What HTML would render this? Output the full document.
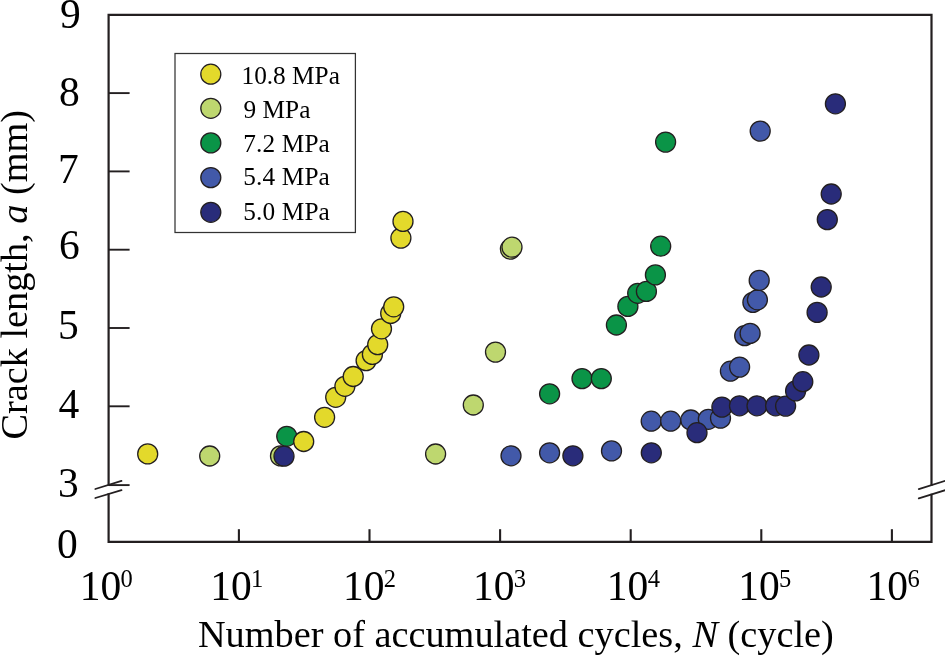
<!DOCTYPE html>
<html><head><meta charset="utf-8"><style>
html,body{margin:0;padding:0;background:#fff;overflow:hidden;}
svg{display:block;will-change:transform;}
text{font-family:"Liberation Serif",serif;fill:#000;}
</style></head><body>
<svg width="945" height="656" viewBox="0 0 945 656">
<path d="M108.6 14.8 V484.6 M108.6 494.4 V541.85 H931.5 V494.8 M931.5 484.6 V14.8 H108.6" fill="none" stroke="#231f20" stroke-width="2.2" stroke-linejoin="miter" stroke-linecap="square"/>
<line x1="108.6" y1="93.1" x2="129.6" y2="93.1" stroke="#231f20" stroke-width="1.9"/>
<line x1="108.6" y1="171.4" x2="129.6" y2="171.4" stroke="#231f20" stroke-width="1.9"/>
<line x1="108.6" y1="249.7" x2="129.6" y2="249.7" stroke="#231f20" stroke-width="1.9"/>
<line x1="108.6" y1="328.0" x2="129.6" y2="328.0" stroke="#231f20" stroke-width="1.9"/>
<line x1="108.6" y1="406.3" x2="129.6" y2="406.3" stroke="#231f20" stroke-width="1.9"/>
<line x1="108.6" y1="485.1" x2="129.6" y2="485.1" stroke="#231f20" stroke-width="1.9"/>
<line x1="238.9" y1="541.85" x2="238.9" y2="529.2" stroke="#231f20" stroke-width="2.1"/>
<line x1="369.5" y1="541.85" x2="369.5" y2="529.2" stroke="#231f20" stroke-width="2.1"/>
<line x1="500.1" y1="541.85" x2="500.1" y2="529.2" stroke="#231f20" stroke-width="2.1"/>
<line x1="630.7" y1="541.85" x2="630.7" y2="529.2" stroke="#231f20" stroke-width="2.1"/>
<line x1="761.3" y1="541.85" x2="761.3" y2="529.2" stroke="#231f20" stroke-width="2.1"/>
<line x1="891.9" y1="541.85" x2="891.9" y2="529.2" stroke="#231f20" stroke-width="2.1"/>
<path d="M95.3 489 L121.5 480.9 M95.3 498 L121.5 490.2" stroke="#231f20" stroke-width="1.8" fill="none" stroke-linecap="round"/>
<path d="M918.8 489.1 L946 480.6 M918.8 498.4 L946 489.9" stroke="#231f20" stroke-width="1.8" fill="none" stroke-linecap="round"/>
<g stroke="#231f20" stroke-width="1.3"><circle cx="209.7" cy="456" r="10.0" fill="#bed76f"/>
<circle cx="280.5" cy="455.9" r="10.0" fill="#bed76f"/>
<circle cx="435.6" cy="454" r="10.0" fill="#bed76f"/>
<circle cx="473.3" cy="405" r="10.0" fill="#bed76f"/>
<circle cx="495.5" cy="352.1" r="10.0" fill="#bed76f"/>
<circle cx="510.4" cy="249.1" r="10.0" fill="#bed76f"/>
<circle cx="512" cy="247.2" r="10.0" fill="#bed76f"/><circle cx="286.75" cy="436.3" r="10.0" fill="#0a9447"/>
<circle cx="549.6" cy="393.8" r="10.0" fill="#0a9447"/>
<circle cx="582" cy="378.6" r="10.0" fill="#0a9447"/>
<circle cx="601.3" cy="378.6" r="10.0" fill="#0a9447"/>
<circle cx="616.4" cy="325" r="10.0" fill="#0a9447"/>
<circle cx="627.9" cy="306.4" r="10.0" fill="#0a9447"/>
<circle cx="637.7" cy="293.3" r="10.0" fill="#0a9447"/>
<circle cx="646.4" cy="291.4" r="10.0" fill="#0a9447"/>
<circle cx="655.4" cy="274.9" r="10.0" fill="#0a9447"/>
<circle cx="660.7" cy="246.2" r="10.0" fill="#0a9447"/>
<circle cx="665.6" cy="142.1" r="10.0" fill="#0a9447"/><circle cx="511" cy="455.8" r="10.0" fill="#4259a9"/>
<circle cx="549.6" cy="452.8" r="10.0" fill="#4259a9"/>
<circle cx="611.5" cy="450.9" r="10.0" fill="#4259a9"/>
<circle cx="651.2" cy="421.2" r="10.0" fill="#4259a9"/>
<circle cx="670.7" cy="421.2" r="10.0" fill="#4259a9"/>
<circle cx="690.8" cy="420" r="10.0" fill="#4259a9"/>
<circle cx="708.3" cy="419.3" r="10.0" fill="#4259a9"/>
<circle cx="720.5" cy="418.2" r="10.0" fill="#4259a9"/>
<circle cx="730.4" cy="371.2" r="10.0" fill="#4259a9"/>
<circle cx="739.6" cy="367.1" r="10.0" fill="#4259a9"/>
<circle cx="744.7" cy="335.7" r="10.0" fill="#4259a9"/>
<circle cx="750.1" cy="333.4" r="10.0" fill="#4259a9"/>
<circle cx="752.9" cy="302.4" r="10.0" fill="#4259a9"/>
<circle cx="757.4" cy="299.8" r="10.0" fill="#4259a9"/>
<circle cx="759.2" cy="280.4" r="10.0" fill="#4259a9"/>
<circle cx="760.2" cy="131.1" r="10.0" fill="#4259a9"/><circle cx="284" cy="456.2" r="10.0" fill="#292c7a"/>
<circle cx="572.9" cy="455.8" r="10.0" fill="#292c7a"/>
<circle cx="651.3" cy="452.8" r="10.0" fill="#292c7a"/>
<circle cx="697" cy="432.7" r="10.0" fill="#292c7a"/>
<circle cx="721.9" cy="407.1" r="10.0" fill="#292c7a"/>
<circle cx="739.5" cy="405.8" r="10.0" fill="#292c7a"/>
<circle cx="757" cy="405.8" r="10.0" fill="#292c7a"/>
<circle cx="775.6" cy="405.8" r="10.0" fill="#292c7a"/>
<circle cx="785.6" cy="406.1" r="10.0" fill="#292c7a"/>
<circle cx="795.6" cy="390.9" r="10.0" fill="#292c7a"/>
<circle cx="802.8" cy="381.7" r="10.0" fill="#292c7a"/>
<circle cx="808.9" cy="355" r="10.0" fill="#292c7a"/>
<circle cx="817.1" cy="312.4" r="10.0" fill="#292c7a"/>
<circle cx="821.2" cy="287" r="10.0" fill="#292c7a"/>
<circle cx="827.3" cy="219.6" r="10.0" fill="#292c7a"/>
<circle cx="831.2" cy="194" r="10.0" fill="#292c7a"/>
<circle cx="835.4" cy="103.8" r="10.0" fill="#292c7a"/><circle cx="147.7" cy="453.9" r="10.0" fill="#e3d92b"/>
<circle cx="303.7" cy="441.5" r="10.0" fill="#e3d92b"/>
<circle cx="324.6" cy="417.3" r="10.0" fill="#e3d92b"/>
<circle cx="335.7" cy="397.3" r="10.0" fill="#e3d92b"/>
<circle cx="344.9" cy="386.3" r="10.0" fill="#e3d92b"/>
<circle cx="353.2" cy="376.5" r="10.0" fill="#e3d92b"/>
<circle cx="366.1" cy="360.6" r="10.0" fill="#e3d92b"/>
<circle cx="372.4" cy="354.4" r="10.0" fill="#e3d92b"/>
<circle cx="377.7" cy="344.6" r="10.0" fill="#e3d92b"/>
<circle cx="381.5" cy="328.8" r="10.0" fill="#e3d92b"/>
<circle cx="390.7" cy="313.4" r="10.0" fill="#e3d92b"/>
<circle cx="393.7" cy="306.8" r="10.0" fill="#e3d92b"/>
<circle cx="400.9" cy="238.1" r="10.0" fill="#e3d92b"/>
<circle cx="403.0" cy="221.4" r="10.0" fill="#e3d92b"/></g>
<rect x="175" y="53.5" width="180.4" height="179" fill="#fff" stroke="#333" stroke-width="1.25"/>
<circle cx="210.8" cy="74.2" r="10.0" fill="#e3d92b" stroke="#231f20" stroke-width="1.3"/>
<text x="241.5" y="83.7" font-size="25.3">10.8 MPa</text>
<circle cx="210.8" cy="108.3" r="10.0" fill="#bed76f" stroke="#231f20" stroke-width="1.3"/>
<text x="243.6" y="117.6" font-size="25.3">9 MPa</text>
<circle cx="210.8" cy="142.9" r="10.0" fill="#0a9447" stroke="#231f20" stroke-width="1.3"/>
<text x="243.2" y="151.5" font-size="25.3" letter-spacing="0.15">7.2 MPa</text>
<circle cx="210.8" cy="177.6" r="10.0" fill="#4259a9" stroke="#231f20" stroke-width="1.3"/>
<text x="243.2" y="184.6" font-size="25.3" letter-spacing="0.15">5.4 MPa</text>
<circle cx="210.8" cy="212.3" r="10.0" fill="#292c7a" stroke="#231f20" stroke-width="1.3"/>
<text x="243.2" y="219.6" font-size="25.3" letter-spacing="0.15">5.0 MPa</text>
<text x="70.44" y="27.5" font-size="41.5" text-anchor="middle">9</text>
<text x="69.35" y="105.9" font-size="41.5" text-anchor="middle">8</text>
<text x="68.48" y="182.6" font-size="41.5" text-anchor="middle">7</text>
<text x="69.38" y="259.4" font-size="41.5" text-anchor="middle">6</text>
<text x="68.46" y="339.2" font-size="41.5" text-anchor="middle">5</text>
<text x="68.87" y="417.8" font-size="41.5" text-anchor="middle">4</text>
<text x="68.36" y="496.5" font-size="41.5" text-anchor="middle">3</text>
<text x="67.4" y="557.8" font-size="41.5" text-anchor="middle">0</text>
<text x="79.75" y="600" font-size="41.5">10<tspan font-size="24.5" dx="-0.7" dy="-12.6">0</tspan></text>
<text x="210.25" y="600" font-size="41.5">10<tspan font-size="24.5" dx="-0.7" dy="-12.6">1</tspan></text>
<text x="342.90" y="600" font-size="41.5">10<tspan font-size="24.5" dx="-0.7" dy="-12.6">2</tspan></text>
<text x="472.90" y="600" font-size="41.5">10<tspan font-size="24.5" dx="-0.7" dy="-12.6">3</tspan></text>
<text x="606.85" y="600" font-size="41.5">10<tspan font-size="24.5" dx="-0.7" dy="-12.6">4</tspan></text>
<text x="738.30" y="600" font-size="41.5">10<tspan font-size="24.5" dx="-0.7" dy="-12.6">5</tspan></text>
<text x="866.60" y="600" font-size="41.5">10<tspan font-size="24.5" dx="-0.7" dy="-12.6">6</tspan></text>
<text x="197.95" y="647.1" font-size="38.3">Number of accumulated cycles, <tspan font-style="italic">N</tspan> (cycle)</text>
<text transform="translate(26.8 439.4) rotate(-90)" font-size="38.25">Crack length, <tspan font-style="italic">a</tspan> (mm)</text>
</svg>
</body></html>
